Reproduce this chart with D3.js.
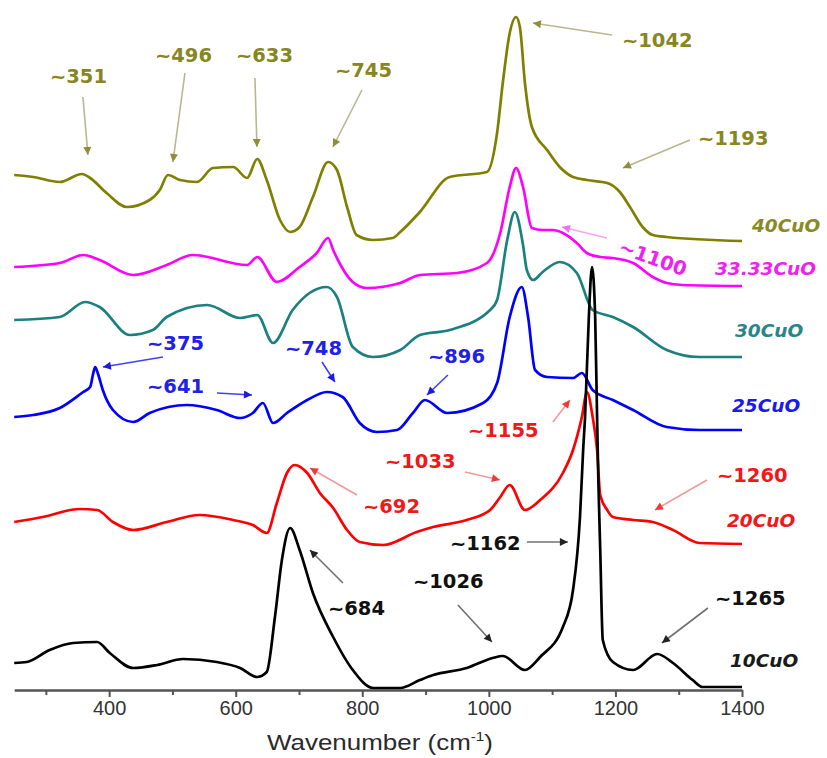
<!DOCTYPE html>
<html>
<head>
<meta charset="utf-8">
<script src="https://cdn.jsdelivr.net/npm/d3@7"></script>
<style>
  body { margin: 0; background: #fff; }
  svg { display: block; }
</style>
</head>
<body>
<div id="chart"></div>
<script>
// Raman spectra, stacked: [wavenumber (cm-1), intensity (a.u., with offset)]
const cuo40 = [[250,51.5],[280,51.3],[322,50.8],[357,51.6],[370,51.2],[396,49.7],[428,48.3],[464,49.0],[480,50.0],[493,51.5],[512,51.0],[539,50.8],[564,52.2],[596,52.3],[618,51.2],[634,53.1],[649,51.0],[670,47.0],[686,45.8],[701,46.3],[722,49.3],[746,52.8],[760,52.0],[776,48.3],[791,45.5],[817,45.0],[848,45.2],[860,45.8],[891,47.8],[938,51.3],[997,51.8],[1013,55.7],[1022,60.7],[1033,65.7],[1043,67.3],[1049,66.3],[1057,60.7],[1068,56.3],[1092,54.0],[1112,52.3],[1133,51.3],[1155,51.0],[1187,50.7],[1207,49.8],[1223,48.3],[1243,46.3],[1259,45.5],[1281,45.3],[1400,44.9]];
const cuo33 = [[250,42.3],[322,42.7],[359,43.5],[385,43.0],[438,41.5],[491,42.5],[532,43.5],[618,42.5],[634,43.3],[665,40.8],[701,42.3],[728,43.7],[746,45.2],[754,44.0],[785,40.8],[807,40.2],[860,40.7],[891,41.5],[950,41.7],[997,42.7],[1018,45.7],[1033,50.3],[1043,52.2],[1054,50.3],[1068,46.2],[1085,46.0],[1101,46.0],[1117,45.7],[1139,44.7],[1155,43.7],[1176,43.3],[1196,43.2],[1228,42.7],[1259,41.3],[1281,40.7],[1306,40.5],[1400,40.4]];
const cuo30 = [[250,37.0],[322,37.3],[362,38.8],[385,38.3],[433,35.5],[469,36.0],[491,37.3],[555,38.5],[607,37.2],[634,37.5],[659,34.7],[690,38.0],[744,40.3],[760,39.3],[785,34.3],[817,33.3],[860,34.0],[891,35.5],[938,36.0],[1002,38.0],[1013,39.0],[1029,45.0],[1041,47.8],[1054,44.5],[1060,42.0],[1070,41.0],[1085,41.8],[1112,42.8],[1139,41.7],[1164,38.0],[1196,37.3],[1228,36.3],[1281,34.0],[1333,33.3],[1400,33.3]];
const cuo25 = [[250,27.3],[280,27.5],[322,28.2],[359,29.8],[370,30.3],[375,31.7],[378,32.3],[382,31.7],[390,30.0],[406,28.0],[438,26.8],[464,27.7],[523,28.5],[570,28.0],[607,27.2],[627,27.7],[643,28.7],[659,26.7],[681,27.7],[713,29.0],[744,29.8],[769,29.3],[796,26.7],[823,25.8],[855,26.0],[880,27.7],[899,29.0],[934,27.7],[991,28.7],[1013,30.7],[1033,37.3],[1052,40.3],[1062,37.3],[1073,32.0],[1092,31.3],[1133,31.2],[1147,31.7],[1164,30.0],[1196,29.0],[1228,28.0],[1281,26.3],[1333,26.0],[1400,26.0]];
const cuo20 = [[250,16.8],[295,17.3],[354,18.1],[381,18.0],[406,16.8],[438,16.0],[491,16.8],[543,17.5],[596,17.0],[627,16.5],[649,15.7],[665,18.7],[681,21.7],[693,22.5],[713,21.7],[733,19.7],[754,18.2],[776,16.0],[796,14.8],[833,14.5],[886,15.8],[912,16.3],[965,17.0],[1002,18.0],[1018,19.3],[1033,20.5],[1057,18.0],[1081,19.0],[1117,21.7],[1133,24.0],[1147,27.3],[1155,29.8],[1164,27.3],[1171,24.0],[1176,19.5],[1187,18.0],[1196,17.3],[1228,17.0],[1259,16.8],[1291,16.0],[1333,14.7],[1400,14.6]];
const cuo10 = [[250,2.7],[270,2.8],[306,4.0],[343,4.7],[381,4.8],[401,3.7],[438,2.2],[476,2.5],[517,3.1],[570,2.8],[607,2.2],[634,1.3],[649,1.8],[662,7.3],[673,13.0],[686,16.2],[701,14.0],[722,9.7],[754,5.3],[785,2.0],[817,0.2],[860,0.2],[891,1.0],[912,1.5],[965,2.2],[1006,3.2],[1022,3.4],[1057,2.0],[1081,3.3],[1117,6.3],[1133,10.0],[1144,17.3],[1149,24.0],[1152,27.3],[1158,37.3],[1163,42.3],[1168,37.3],[1171,27.3],[1173,21.0],[1176,14.0],[1180,5.0],[1196,2.8],[1228,2.0],[1266,3.6],[1291,2.7],[1322,1.0],[1338,0.3],[1400,0.3]];

const seriesNames = ['40CuO', '33.33CuO', '30CuO', '25CuO', '20CuO', '10CuO'];
const seriesData  = [cuo40, cuo33, cuo30, cuo25, cuo20, cuo10];
// where each series name sits, [wavenumber, intensity]
const nameAt = [[1415.7,45.8],[1357.2,41.5],[1388.8,35.3],[1384.1,27.8],[1376.2,16.3],[1380.9,2.3]];

const majorTicks = [400, 600, 800, 1000, 1200, 1400];
const minorTicks = [300, 500, 700, 900, 1100, 1300];

// peak notes: text, text pos, arrow tail, arrow head (data units), series
const notes = [
  ['~351', 306.5,60.7, 358.6,59.3, 366.5,53.5, '40CuO'],
  ['~496', 472.4,62.8, 519.8,61.7, 500.8,52.8, '40CuO'],
  ['~633', 600.4,62.8, 630.4,61.2, 633.6,54.3, '40CuO'],
  ['~745', 756.8,61.3, 799.5,60.0, 753.6,54.3, '40CuO'],
  ['~1042', 1210.3,64.3, 1194.5,65.5, 1069.6,66.7, '40CuO'],
  ['~1193', 1330.3,54.5, 1317.7,55.0, 1211.8,52.2, '40CuO'],
  ['~1100', 1259.2,43.2, 1186.6,45.2, 1115.5,46.3, '33.33CuO'],
  ['~375', 459.8,34.0, 485.0,33.3, 390.2,32.3, '25CuO'],
  ['~748', 677.8,33.5, 736.3,32.8, 756.8,30.8, '25CuO'],
  ['~641', 459.8,29.7, 570.4,29.7, 625.7,29.5, '25CuO'],
  ['~896', 903.7,32.7, 935.3,31.5, 902.2,29.5, '25CuO'],
  ['~692', 801.0,17.7, 791.6,19.5, 717.3,22.2, '20CuO'],
  ['~1033', 835.8,22.2, 962.2,21.8, 1017.5,21.0, '20CuO'],
  ['~1155', 967.0,25.3, 1101.2,26.8, 1128.1,29.0, '20CuO'],
  ['~1260', 1360.4,20.8, 1344.6,21.0, 1262.4,18.0, '20CuO'],
  ['~684', 745.7,7.5, 769.4,10.7, 717.3,14.0, '10CuO'],
  ['~1026', 880.0,10.2, 951.1,8.5, 1004.9,4.8, '10CuO'],
  ['~1162', 938.5,14.0, 1060.2,14.8, 1124.9,14.8, '10CuO'],
  ['~1265', 1357.2,8.5, 1346.1,8.2, 1273.5,4.7, '10CuO']
];

const lineColor  = {'40CuO':'#808000','33.33CuO':'#ff00ff','30CuO':'#1a8080','25CuO':'#0000ff','20CuO':'#ff0000','10CuO':'#000000'};
const nameColor  = {'40CuO':'#8a8a24','33.33CuO':'#f020f0','30CuO':'#2a8585','25CuO':'#1a1af0','20CuO':'#f01818','10CuO':'#1a1a1a'};
const noteColor  = {'40CuO':'#87861f','33.33CuO':'#f020f0','30CuO':'#2a8585','25CuO':'#2020e8','20CuO':'#f01818','10CuO':'#111111'};
const shaftColor = {'40CuO':'#b9b78f','33.33CuO':'#f7a6f2','30CuO':'#7fbaba','25CuO':'#4040ff','20CuO':'#f29a9a','10CuO':'#707070'};
const headColor  = {'40CuO':'#8f8d3c','33.33CuO':'#f070ee','30CuO':'#2a8585','25CuO':'#1a1ae0','20CuO':'#f03a3a','10CuO':'#222222'};

const width = 827, height = 758;
const x = d3.scaleLinear().domain([250, 1400]).range([14.2, 742]);
const y = d3.scaleLinear().domain([0, 68]).range([690, 10]);

const svg = d3.select('#chart').append('svg')
    .attr('width', width)
    .attr('height', height);

const defs = svg.append('defs');
seriesNames.forEach((s, i) => {
  defs.append('marker')
      .attr('id', 'head' + i)
      .attr('viewBox', '0 0 10 10')
      .attr('refX', 10).attr('refY', 5)
      .attr('markerWidth', 11).attr('markerHeight', 8)
      .attr('markerUnits', 'userSpaceOnUse')
      .attr('orient', 'auto')
    .append('path')
      .attr('d', 'M0,0L10,5L0,10Z')
      .attr('fill', headColor[s]);
});

// axis
const gx = svg.append('g').attr('transform', `translate(0,${y(0)})`);
gx.call(d3.axisBottom(x).tickValues(majorTicks).tickFormat(d3.format('d'))
    .tickSize(7).tickSizeOuter(0).tickPadding(4));
gx.append('g').call(d3.axisBottom(x).tickValues(minorTicks).tickSize(5).tickFormat(''))
  .select('.domain').remove();
gx.selectAll('.domain').attr('stroke', '#555').attr('stroke-width', 2.4);
gx.selectAll('.tick line').attr('stroke', '#555').attr('stroke-width', 2);
gx.selectAll('.tick text')
  .attr('fill', '#333')
  .style('font-family', '"Liberation Sans", Arial, sans-serif')
  .style('font-size', '20px');

const title = svg.append('g')
    .attr('transform', `translate(380,750) scale(1.18,1)`)
  .append('text')
    .attr('text-anchor', 'middle')
    .attr('fill', '#2a2a2a')
    .style('font-family', '"Liberation Sans", Arial, sans-serif')
    .style('font-size', '22px');
title.append('tspan').text('Wavenumber (cm');
title.append('tspan').attr('dy', -9).style('font-size', '13px').text('-1');
title.append('tspan').attr('dy', 9).text(')');

// spectra
const line = d3.line()
    .x(d => x(d[0]))
    .y(d => y(d[1]))
    .curve(d3.curveMonotoneX);

svg.append('g').selectAll('path')
  .data(seriesData)
  .enter().append('path')
    .attr('d', line)
    .attr('fill', 'none')
    .attr('stroke', (d, i) => lineColor[seriesNames[i]])
    .attr('stroke-width', 2.7)
    .attr('stroke-linejoin', 'round');

// series names
svg.append('g').selectAll('text')
  .data(seriesNames)
  .enter().append('text')
    .attr('x', (d, i) => x(nameAt[i][0]))
    .attr('y', (d, i) => y(nameAt[i][1]))
    .text(d => d)
    .attr('fill', d => nameColor[d])
    .style('font-family', '"DejaVu Sans", Verdana, sans-serif')
    .style('font-style', 'italic')
    .style('font-weight', 'bold')
    .style('font-size', '18.5px');

// peak notes
const gn = svg.append('g');
gn.selectAll('line')
  .data(notes)
  .enter().append('line')
    .attr('x1', d => x(d[3])).attr('y1', d => y(d[4]))
    .attr('x2', d => x(d[5])).attr('y2', d => y(d[6]))
    .attr('stroke', d => shaftColor[d[7]])
    .attr('stroke-width', 1.6)
    .attr('marker-end', d => `url(#head${seriesNames.indexOf(d[7])})`);

gn.selectAll('text')
  .data(notes)
  .enter().append('text')
    .attr('x', d => x(d[1]))
    .attr('y', d => y(d[2]))
    .attr('text-anchor', d => d[0] === '~1100' ? 'middle' : 'start')
    .attr('dy', d => d[0] === '~1100' ? '0.35em' : null)
    .attr('transform', d => d[0] === '~1100' ? `rotate(20,${x(d[1])},${y(d[2])})` : null)
    .text(d => d[0])
    .attr('fill', d => noteColor[d[7]])
    .style('font-family', '"DejaVu Sans", Verdana, sans-serif')
    .style('font-weight', 'bold')
    .style('font-size', '19.5px');
</script>
</body>
</html>
